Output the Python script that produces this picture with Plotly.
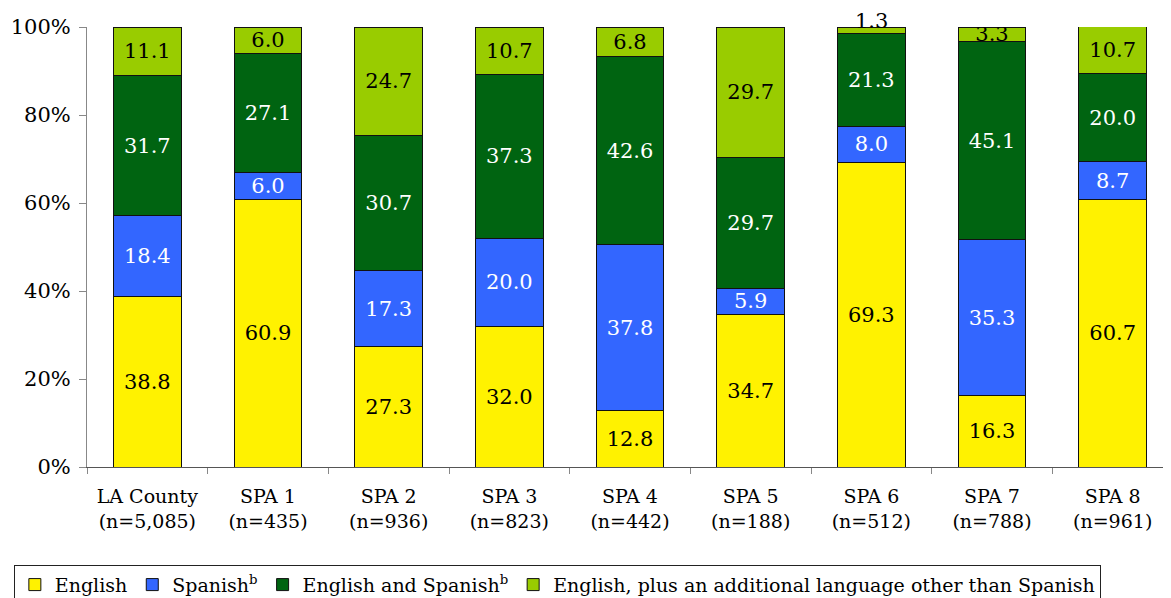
import plotly.graph_objects as go

# categories and sample sizes
areas = ["LA County", "SPA 1", "SPA 2", "SPA 3", "SPA 4", "SPA 5", "SPA 6", "SPA 7", "SPA 8"]
sizes = ["5,085", "435", "936", "823", "442", "188", "512", "788", "961"]

# percent of respondents by language
english = [38.8, 60.9, 27.3, 32.0, 12.8, 34.7, 69.3, 16.3, 60.7]
spanish = [18.4, 6.0, 17.3, 20.0, 37.8, 5.9, 8.0, 35.3, 8.7]
eng_spanish = [31.7, 27.1, 30.7, 37.3, 42.6, 29.7, 21.3, 45.1, 20.0]
eng_other = [11.1, 6.0, 24.7, 10.7, 6.8, 29.7, 1.3, 3.3, 10.7]

y_ticks = [0, 20, 40, 60, 80, 100]
y_tick_text = [str(t) + "%" for t in y_ticks]

labels = [a + "<br>(n=" + n + ")" for a, n in zip(areas, sizes)]
FONT = "DejaVu Serif"
SMALL = 2  # slices below this get their label above the bar

series = [
    ("English", english, "#FFF200", "black"),
    ("Spanish<sup>b</sup>", spanish, "#3366FF", "white"),
    ("English and Spanish<sup>b</sup>", eng_spanish, "#006411", "white"),
    ("English, plus an additional language other than Spanish", eng_other, "#99CC00", "black"),
]

fig = go.Figure()
for name, vals, col, txtcol in series:
    txt = ["" if v < SMALL else "%.1f" % v for v in vals]
    fig.add_trace(go.Bar(
        x=labels, y=vals, name=name,
        marker=dict(color=col, line=dict(color="#111111", width=1)),
        text=txt, textposition="inside", insidetextanchor="middle",
        textfont=dict(color=txtcol, size=21, family=FONT),
        constraintext="none", hoverinfo="x+y+name",
    ))

# labels for the very thin top slices, sitting on top of the stack
for i, v in enumerate(eng_other):
    if v < SMALL:
        total = english[i] + spanish[i] + eng_spanish[i] + v
        fig.add_annotation(
            x=labels[i], y=min(total, 100), text="%.1f" % v,
            showarrow=False, yanchor="bottom", yshift=-8,
            font=dict(size=21, family=FONT, color="black"),
        )

# page body adds an 8px offset, margins are set with that in mind
fig.update_layout(
    barmode="stack", bargap=0.44,
    width=1171, height=598,
    margin=dict(l=79, r=6, t=19, b=139, autoexpand=False),
    plot_bgcolor="white", paper_bgcolor="white",
    font=dict(family=FONT, size=19, color="black"),
    uniformtext=dict(minsize=21, mode="show"),
    legend=dict(
        orientation="h", xref="container", yref="container",
        x=0.005, y=0.069, xanchor="left", yanchor="top",
        bordercolor="#222222", borderwidth=1,
        font=dict(size=19, family=FONT), itemwidth=30,
        traceorder="normal", tracegroupgap=0,
    ),
    showlegend=True,
)
fig.update_yaxes(
    range=[0, 100], tickmode="array", tickvals=y_ticks, ticktext=y_tick_text,
    showgrid=False, showline=True, linecolor="#888888",
    ticks="outside", ticklen=7, tickcolor="#888888", ticklabelstandoff=4,
    tickfont=dict(size=21), zeroline=False,
)
fig.update_xaxes(
    showgrid=False, showline=True, linecolor="#555555",
    ticks="outside", ticklen=6, tickcolor="#888888", tickson="boundaries",
    ticklabelstandoff=12, tickfont=dict(size=19),
)

fig.write_html("out.html")
